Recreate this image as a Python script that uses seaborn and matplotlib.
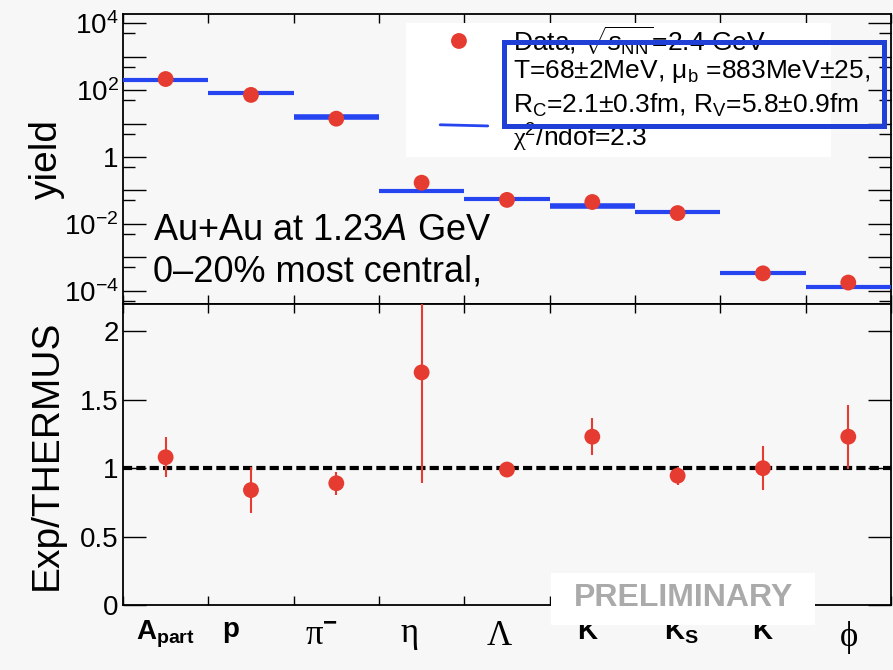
import numpy as np
import pandas as pd
import seaborn as sns
import matplotlib
matplotlib.use('Agg')
import matplotlib.pyplot as plt
from matplotlib.patches import Rectangle
from matplotlib.transforms import ScaledTranslation
from matplotlib.ticker import FixedLocator, FuncFormatter, NullFormatter

# data
particles = ["Apart", "p", "pi-", "eta", "Lambda", "K+", "Ks", "K-", "phi"]
tick_labels = [r"$\mathbf{A}_{\mathbf{part}}$", r"$\mathbf{p}$", r"$\mathrm{\pi}^{\mathbf{-}}$",
               r"$\mathrm{\eta}$", r"$\Lambda$", r"$\mathbf{K}$", r"$\mathbf{K}_{\mathbf{S}}$",
               r"$\mathbf{K}$", r"$\mathrm{\phi}$"]
yield_data = [215, 72, 14.0, 0.17, 0.052, 0.045, 0.021, 3.3e-4, 1.75e-4]
yield_fit = [195, 82, 16.0, 0.098, 0.056, 0.035, 0.023, 3.3e-4, 1.25e-4]
ratio = [1.08, 0.84, 0.89, 1.70, 0.99, 1.23, 0.945, 1.00, 1.23]
ratio_err = [0.145, 0.17, 0.085, 0.81, 0.0, 0.135, 0.065, 0.16, 0.235]

red = "#e63b30"
blue = "#2645f0"
bg = "#f7f7f7"

sns.set_theme(style="ticks", rc={"axes.edgecolor": "black", "xtick.color": "black",
                                  "ytick.color": "black", "text.color": "black",
                                  "axes.labelcolor": "black", "axes.facecolor": bg,
                                  "figure.facecolor": bg, "axes.linewidth": 1.3})
plt.rcParams['font.family'] = ['Liberation Sans', 'DejaVu Sans']
plt.rcParams['mathtext.fontset'] = 'custom'
plt.rcParams['mathtext.rm'] = 'Liberation Serif'
plt.rcParams['mathtext.it'] = 'Liberation Sans:italic'
plt.rcParams['mathtext.bf'] = 'Liberation Sans:bold'
plt.rcParams['mathtext.sf'] = 'Liberation Sans'

n = len(particles)
edges = np.arange(n + 1)
pos = edges[:-1] + 0.5
df = pd.DataFrame({"particle": particles, "pos": pos, "data": yield_data,
                   "fit": yield_fit, "ratio": ratio, "err": ratio_err})
fit_lw = [3, 3, 4, 3, 3, 4, 3, 3, 3]
label_dx = [0, -20, -15, -12, -8, -4, 4, 0, 0]  # px nudges of the bin labels
label_size = [20, 20, 25, 25, 25, 20, 20, 20, 25]

fig = plt.figure(figsize=(8.93, 6.7), dpi=100)
ax1 = fig.add_axes([0.1377, 0.5463, 0.8600, 0.4328])
ax2 = fig.add_axes([0.1377, 0.0970, 0.8600, 0.4493])

# ---- top panel: yields
ax1.hlines(df["fit"], df["pos"] - 0.5, df["pos"] + 0.5, colors=blue, lw=fit_lw, zorder=3)
sns.scatterplot(data=df, x="pos", y="data", ax=ax1, color=red, s=130,
                edgecolor="none", zorder=4, legend=False)
ax1.set_yscale("log")
ax1.set_ylim(10 ** -4.398, 10 ** 4.278)
ax1.yaxis.set_major_locator(FixedLocator([10.0 ** k for k in range(-4, 5)]))
ax1.yaxis.set_minor_locator(FixedLocator([5 * 10.0 ** k for k in range(-5, 4)]))


def log_label(v, _):
    k = int(round(np.log10(v)))
    if k % 2:
        return ""
    if k == 0:
        return "1"
    return r"$\mathdefault{10^{%d}}$" % k


ax1.yaxis.set_major_formatter(FuncFormatter(log_label))
ax1.yaxis.set_minor_formatter(NullFormatter())
ax1.set_ylabel("yield", fontsize=28)

# legend box
ax1.add_patch(Rectangle((0.368, 0.507), 0.554, 0.462, transform=ax1.transAxes,
                        facecolor="white", edgecolor="none", zorder=2))
ax1.scatter([0.4375], [0.907], transform=ax1.transAxes, color=red, s=130,
            edgecolor="none", zorder=5)
ax1.plot([0.413, 0.475], [0.618, 0.614], transform=ax1.transAxes, color=blue, lw=2, zorder=5)
ax1.text(0.508, 0.905, r"Data, $\sqrt{s_{\mathsf{NN}}}$=2.4 GeV", transform=ax1.transAxes,
         fontsize=19, va="center", zorder=5)
ax1.text(0.508, 0.80, r"T=68±2MeV, μ$_{\mathsf{b}}$ =883MeV±25,", transform=ax1.transAxes,
         fontsize=19, va="center", zorder=5)
ax1.text(0.508, 0.686, r"R$_{\mathsf{C}}$=2.1±0.3fm, R$_{\mathsf{V}}$=5.8±0.9fm",
         transform=ax1.transAxes, fontsize=19, va="center", zorder=5)
ax1.text(0.508, 0.572, r"$\mathrm{\chi}^{\mathsf{2}}$/ndof=2.3", transform=ax1.transAxes,
         fontsize=19, va="center", zorder=5)

ax1.text(0.039, 0.255, r"Au+Au at 1.23$\mathit{A}$ GeV", transform=ax1.transAxes,
         fontsize=26, va="center")
ax1.text(0.039, 0.11, "0\u201320% most central,", transform=ax1.transAxes,
         fontsize=26, va="center")

# ---- bottom panel: ratio
ax2.axhline(1, color="black", lw=3, ls=(0, (2.2, 1.0)), zorder=2)
ax2.errorbar(df["pos"], df["ratio"], yerr=df["err"], fmt="none", ecolor=red,
             elinewidth=1.5, zorder=3)
sns.scatterplot(data=df, x="pos", y="ratio", ax=ax2, color=red, s=130,
                edgecolor="none", zorder=4, legend=False)
ax2.set_ylim(0, 2.2)
ax2.set_yticks([0, 0.5, 1, 1.5, 2], ["0", "0.5", "1", "1.5", "2"])
ax2.set_ylabel("Exp/THERMUS", fontsize=28)

for ax in (ax1, ax2):
    ax.set_xlim(0, n)
    ax.set_xlabel("")
    ax.set_xticks(pos)
    ax.xaxis.set_minor_locator(FixedLocator(edges))
    ax.tick_params(axis="both", which="both", direction="in", top=True, right=True)
    ax.tick_params(axis="x", which="major", length=0, pad=10, labelsize=20)
    ax.tick_params(axis="x", which="minor", length=6.5, width=1)
    ax.tick_params(axis="y", which="major", length=16.5, width=1, labelsize=20, pad=3)
    ax.tick_params(axis="y", which="minor", length=8.5, width=1)
    ax.yaxis.set_label_coords(-0.076, 0.5)
    for s in ax.spines.values():
        s.set_visible(True)

ax1.set_xticklabels([])
ax2.set_xticklabels(tick_labels)
for lbl, dx, fs in zip(ax2.get_xticklabels(), label_dx, label_size):
    lbl.set_fontsize(fs)
    lbl.set_transform(lbl.get_transform() + ScaledTranslation(dx / 100, 0, fig.dpi_scale_trans))

# blue frame over the fit parameters
fig.add_artist(Rectangle((0.5644, 0.8119), 0.4255, 0.1254, transform=fig.transFigure,
                         facecolor="none", edgecolor="#1f3fd6", lw=3.6, zorder=10))

# preliminary tag
fig.add_artist(Rectangle((0.617, 0.0672), 0.2956, 0.0776, transform=fig.transFigure,
                         facecolor="white", edgecolor="none", zorder=9))
fig.text(0.765, 0.107, "PRELIMINARY", fontsize=23, fontweight="bold", color="#aaaaaa",
         ha="center", va="center", zorder=11)

fig.savefig("out.png", dpi=100, facecolor=bg)
